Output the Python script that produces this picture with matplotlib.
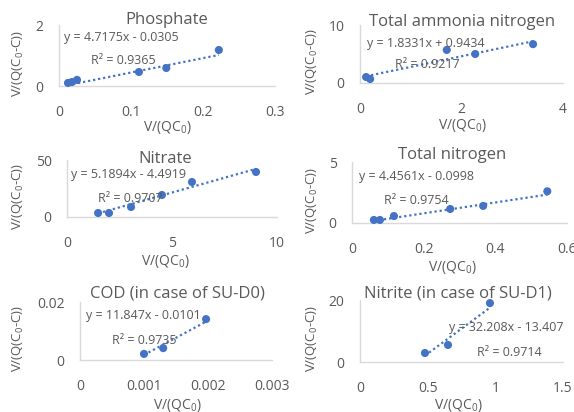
import matplotlib
matplotlib.use("Agg")
import matplotlib.pyplot as plt
import numpy as np

plt.rcParams['font.family'] = ['Open Sans', 'DejaVu Sans']
plt.rcParams['mathtext.fontset'] = 'custom'
plt.rcParams['mathtext.rm'] = 'Open Sans'
plt.rcParams['mathtext.it'] = 'Open Sans'

W, H = 574, 412
BLUE = '#4472C4'
GRAY = '#595959'
LINE = '#D9D9D9'

# ---- data ----
titles = ["Phosphate", "Total ammonia nitrogen", "Nitrate", "Total nitrogen",
          "COD (in case of SU-D0)", "Nitrite (in case of SU-D1)"]
phos_x = [0.0125, 0.018, 0.025, 0.111, 0.149, 0.222]
phos_y = [0.10, 0.13, 0.20, 0.46, 0.59, 1.18]
tan_x = [0.12, 0.20, 1.71, 2.27, 3.41]
tan_y = [1.03, 0.69, 5.7, 5.0, 6.7]
nitrate_x = [1.48, 2.0, 3.05, 4.52, 5.95, 9.0]
nitrate_y = [3.5, 3.5, 8.8, 19.3, 30.7, 39.5]
tn_x = [0.061, 0.078, 0.117, 0.274, 0.366, 0.545]
tn_y = [0.25, 0.25, 0.57, 1.15, 1.40, 2.6]
cod_x = [0.0010, 0.0013, 0.00197]
cod_y = [0.0021, 0.0041, 0.0141]
nitrite_x = [0.48, 0.65, 0.96]
nitrite_y = [2.9, 5.5, 19.0]
slopes = [4.7175, 1.8331, 5.1894, 4.4561, 11.847, 32.208]
intercepts = [-0.0305, 0.9434, -4.4919, -0.0998, -0.0101, -13.407]
eq_labels = ["y = 4.7175x - 0.0305", "y = 1.8331x + 0.9434", "y = 5.1894x - 4.4919",
             "y = 4.4561x - 0.0998", "y = 11.847x - 0.0101", "y = 32.208x - 13.407"]
r2_labels = ["R² = 0.9365", "R² = 0.9217", "R² = 0.9707", "R² = 0.9754",
             "R² = 0.9735", "R² = 0.9714"]
xticks_list = [[0, 0.1, 0.2, 0.3], [0, 2, 4], [0, 5, 10], [0, 0.2, 0.4, 0.6],
               [0, 0.001, 0.002, 0.003], [0, 0.5, 1, 1.5]]
xtick_labels = [["0", "0.1", "0.2", "0.3"], ["0", "2", "4"], ["0", "5", "10"],
                ["0", "0.2", "0.4", "0.6"], ["0", "0.001", "0.002", "0.003"],
                ["0", "0.5", "1", "1.5"]]
yticks_list = [[0, 2], [0, 10], [0, 50], [0, 5], [0, 0.02], [0, 20]]
ytick_labels = [["0", "2"], ["0", "10"], ["0", "50"], ["0", "5"], ["0", "0.02"], ["0", "20"]]
xs = [phos_x, tan_x, nitrate_x, tn_x, cod_x, nitrite_x]
ys = [phos_y, tan_y, nitrate_y, tn_y, cod_y, nitrite_y]

# ---- layout (pixels) ----
boxes = [(59, 275, 25, 86), (360, 563, 25, 83), (67, 277, 160, 217),
         (352, 567, 162, 223), (80, 272, 302, 360), (360, 563, 300, 362)]
title_pos = [(167, 20), (462, 22), (165, 159), (452, 155), (177, 293), (458, 293)]
eq_pos = [(64, 37), (367, 43), (71, 175), (359, 177), (86, 315), (449, 327)]
r2_pos = [(91, 60), (395, 65), (98, 199), (384, 200), (112, 340), (477, 352)]
xlab_y = [127, 125, 262, 267, 405, 405]
xlab_x = [167, 462, 165, 452, 177, 458]
ylab_x = [18, 312, 18, 312, 18, 312]

fig = plt.figure(figsize=(W / 100, H / 100), dpi=100)

def fx(x):
    return x / W

def fy(y):
    return 1 - y / H

for i in range(6):
    x0, x1, yt, yb = boxes[i]
    ax = fig.add_axes([fx(x0), fy(yb), (x1 - x0) / W, (yb - yt) / H])
    ax.set_xlim(xticks_list[i][0], xticks_list[i][-1])
    ax.set_ylim(yticks_list[i][0], yticks_list[i][-1])
    ax.set_facecolor('none')
    for s in ['top', 'right']:
        ax.spines[s].set_visible(False)
    for s in ['left', 'bottom']:
        ax.spines[s].set_color(LINE)
        ax.spines[s].set_linewidth(1.0)
    ax.set_xticks(xticks_list[i])
    ax.set_xticklabels(xtick_labels[i])
    ax.set_yticks(yticks_list[i])
    ax.set_yticklabels(ytick_labels[i])
    ax.tick_params(axis='x', length=0, pad=14, labelsize=10, labelcolor=GRAY)
    ax.tick_params(axis='y', length=0, pad=11, labelsize=10, labelcolor=GRAY)
    x = np.array(xs[i])
    y = np.array(ys[i])
    xl = np.array([x.min(), x.max()])
    ax.plot(xl, slopes[i] * xl + intercepts[i], linestyle=(0, (1, 1.3)),
            color=BLUE, lw=1.6, zorder=2, clip_on=False)
    ax.scatter(x, y, s=34, color=BLUE, zorder=3, clip_on=False, edgecolors='none')

    fig.text(fx(title_pos[i][0]), fy(title_pos[i][1]), titles[i], ha='center',
             va='center', fontsize=12, color=GRAY)
    fig.text(fx(eq_pos[i][0]), fy(eq_pos[i][1]), eq_labels[i], ha='left',
             va='center', fontsize=9, color=GRAY)
    fig.text(fx(r2_pos[i][0]), fy(r2_pos[i][1]), r2_labels[i], ha='left',
             va='center', fontsize=9, color=GRAY)
    fig.text(fx(xlab_x[i]), fy(xlab_y[i]), r"V/(QC$_0$)", ha='center',
             va='center', fontsize=10, color=GRAY)
    fig.text(fx(ylab_x[i]), fy((yt + yb) / 2 + 8), r"V/(Q(C$_0$-C))", ha='center',
             va='center', fontsize=9.5, color=GRAY, rotation=90)

fig.savefig("out.png", dpi=100)
